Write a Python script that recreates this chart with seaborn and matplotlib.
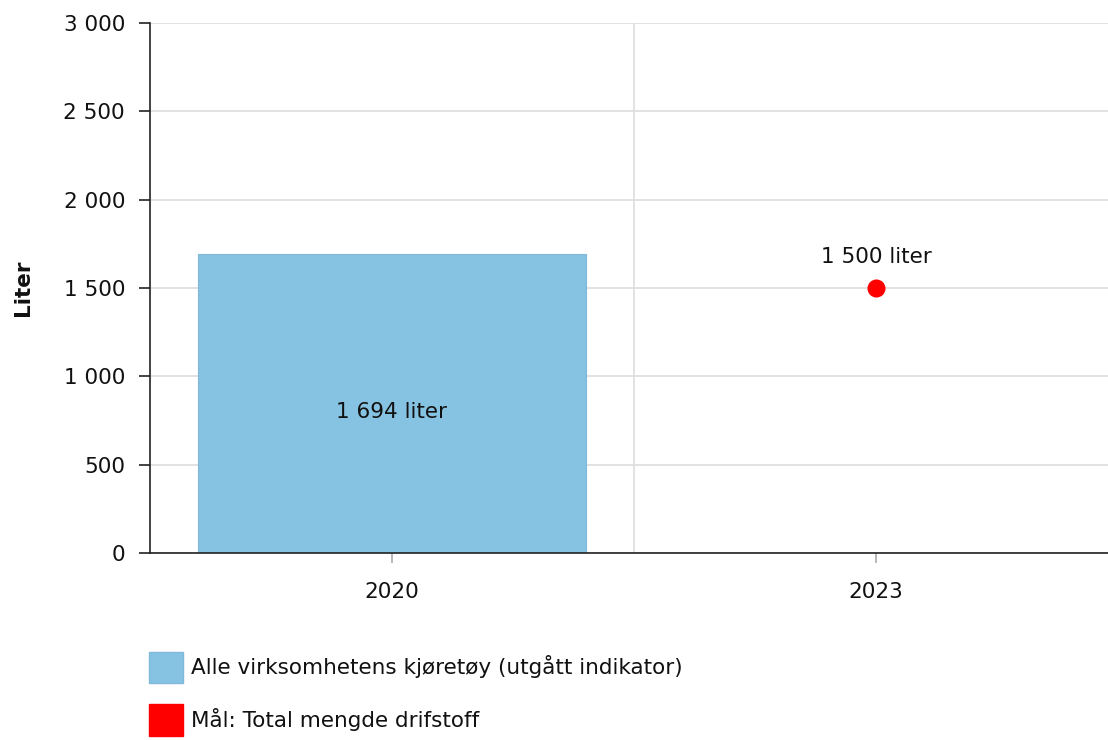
import pandas as pd
import seaborn as sns
import matplotlib.pyplot as plt
import matplotlib.patches as mpatches
from matplotlib.ticker import FuncFormatter

years = ["2020", "2023"]
bar_years = ["2020"]
bar_values = [1694]
goal_years = ["2023"]
goal_values = [1500]

bar_label = "Alle virksomhetens kjøretøy (utgått indikator)"
goal_label = "Mål: Total mengde drifstoff"
bar_color = "#86c2e1"
goal_color = "#ff0000"
FS = 15.5


def fmt(v):
    return "{:,.0f}".format(v).replace(",", " ")


sns.set_theme(style="white")
plt.rcParams['font.family'] = ['DejaVu Sans']

fig = plt.figure(figsize=(11.08, 7.4), dpi=100)
ax = fig.add_axes([150 / 1108, 1 - 553 / 740, (1118 - 150) / 1108, (553 - 23) / 740])

bars = pd.DataFrame({"year": bar_years, "value": bar_values})
goals = pd.DataFrame({"year": goal_years, "value": goal_values})

sns.barplot(data=bars, x="year", y="value", order=years, color=bar_color,
            width=0.8, saturation=1, edgecolor="#7fb8d8", linewidth=0.8, ax=ax)
sns.stripplot(data=goals, x="year", y="value", order=years, color=goal_color,
              jitter=False, size=13, linewidth=0, ax=ax, zorder=5)

# value labels, placed like the original (a bit below the bar middle / above the dot)
for y, v in zip(bar_years, bar_values):
    ax.text(years.index(y), v / 2 - 50, fmt(v) + " liter", ha="center", va="center",
            fontsize=FS, color="#111111")
for y, v in zip(goal_years, goal_values):
    ax.text(years.index(y), v + 175, fmt(v) + " liter", ha="center", va="center",
            fontsize=FS, color="#111111")

ax.set_xlim(-0.5, 1.5)
ax.set_ylim(0, 3000)
ax.set_yticks(range(0, 3001, 500))
ax.yaxis.set_major_formatter(FuncFormatter(lambda v, p: fmt(v)))
ax.set_xticks([0, 1])
ax.set_xticklabels(years)
ax.set_xticks([0.5], minor=True)

ax.grid(axis="y", which="major", color="#dddddd", linewidth=1.2)
ax.grid(axis="x", which="minor", color="#dddddd", linewidth=1.2)
ax.set_axisbelow(True)

for s in ["top", "right"]:
    ax.spines[s].set_visible(False)
for s in ["left", "bottom"]:
    ax.spines[s].set_color("#222222")
    ax.spines[s].set_linewidth(1.2)

ax.tick_params(axis="y", which="major", length=8, width=1.2, color="#222222",
               labelsize=FS, labelcolor="#111111", pad=10, left=True)
ax.tick_params(axis="x", which="major", length=7, width=1.2, color="#aaaaaa",
               labelsize=FS, labelcolor="#111111", pad=14, bottom=True)
ax.tick_params(axis="x", which="minor", length=0)

ax.set_xlabel("")
ax.set_ylabel("Liter", fontsize=FS, fontweight="bold", labelpad=22, color="#111111")

handles = [mpatches.Patch(facecolor=bar_color, edgecolor="#7fb8d8", label=bar_label),
           mpatches.Patch(facecolor=goal_color, edgecolor=goal_color, label=goal_label)]
fig.legend(handles=handles, loc="upper left", bbox_to_anchor=(140 / 1108, 1 - 643 / 740),
           frameon=False, fontsize=FS, handlelength=1.6, handleheight=1.9,
           handletextpad=0.35, labelspacing=0.95, borderaxespad=0,
           labelcolor="#111111")

fig.savefig("out.png", dpi=100)
